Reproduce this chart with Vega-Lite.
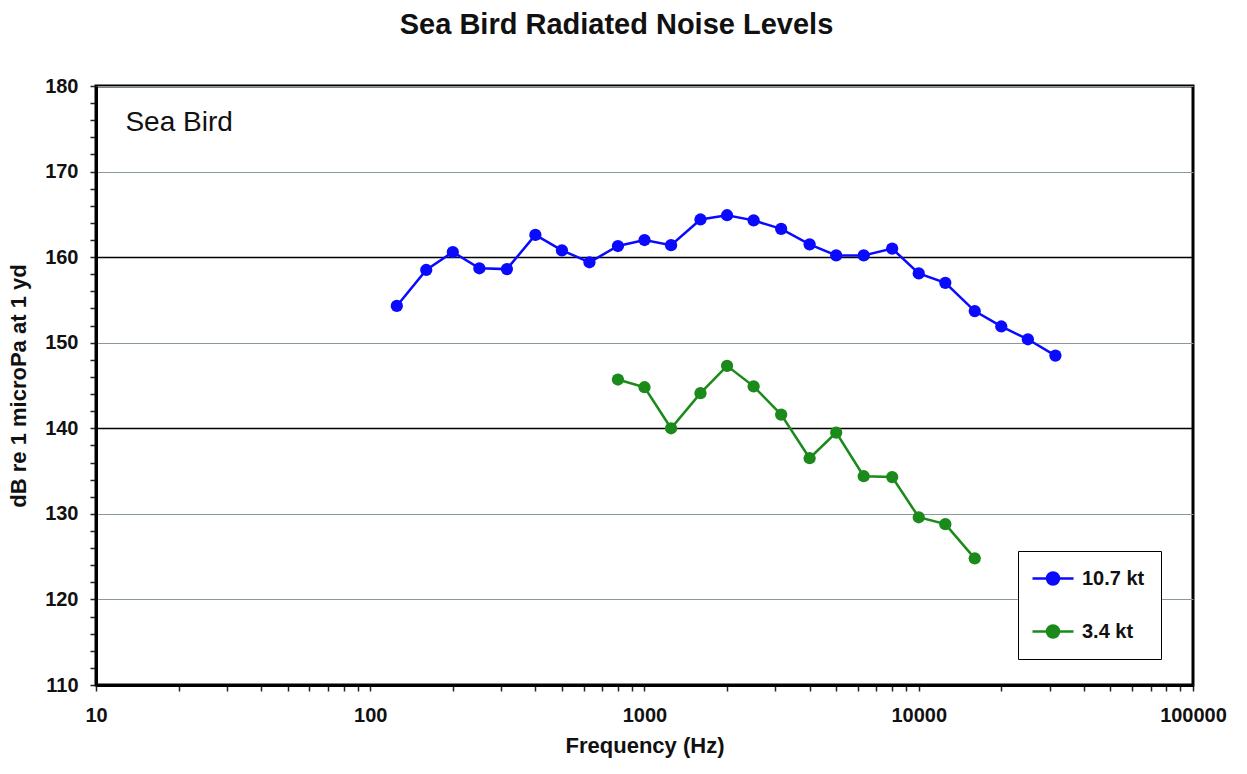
{
  "$schema": "https://vega.github.io/schema/vega-lite/v6.json",
  "width": 1097,
  "height": 599,
  "autosize": "none",
  "padding": {"left": 96, "top": 86, "right": 54, "bottom": 89},
  "background": "white",
  "title": {
    "text": "Sea Bird Radiated Noise Levels",
    "font": "Liberation Sans",
    "fontSize": 29,
    "fontWeight": "bold",
    "color": "#111",
    "anchor": "middle",
    "dx": -28,
    "offset": 36
  },
  "config": {
    "view": {"stroke": "black", "strokeWidth": 3},
    "font": "Liberation Sans",
    "axis": {
      "labelFont": "Liberation Sans",
      "labelFontSize": 20,
      "labelFontWeight": "bold",
      "labelColor": "#111",
      "titleFont": "Liberation Sans",
      "titleFontSize": 22,
      "titleFontWeight": "bold",
      "titleColor": "#111",
      "domainColor": "black",
      "domainWidth": 3,
      "tickColor": "#222",
      "tickWidth": 1.5,
      "tickSize": 6,
      "tickCount": 100
    }
  },
  "data": {
    "values": [
      {"f": 125, "dB": 154.3, "s": "10.7 kt"},
      {"f": 160, "dB": 158.5, "s": "10.7 kt"},
      {"f": 200, "dB": 160.6, "s": "10.7 kt"},
      {"f": 250, "dB": 158.7, "s": "10.7 kt"},
      {"f": 315, "dB": 158.6, "s": "10.7 kt"},
      {"f": 400, "dB": 162.6, "s": "10.7 kt"},
      {"f": 500, "dB": 160.8, "s": "10.7 kt"},
      {"f": 630, "dB": 159.4, "s": "10.7 kt"},
      {"f": 800, "dB": 161.3, "s": "10.7 kt"},
      {"f": 1000, "dB": 162.0, "s": "10.7 kt"},
      {"f": 1250, "dB": 161.4, "s": "10.7 kt"},
      {"f": 1600, "dB": 164.4, "s": "10.7 kt"},
      {"f": 2000, "dB": 164.9, "s": "10.7 kt"},
      {"f": 2500, "dB": 164.3, "s": "10.7 kt"},
      {"f": 3150, "dB": 163.3, "s": "10.7 kt"},
      {"f": 4000, "dB": 161.5, "s": "10.7 kt"},
      {"f": 5000, "dB": 160.2, "s": "10.7 kt"},
      {"f": 6300, "dB": 160.2, "s": "10.7 kt"},
      {"f": 8000, "dB": 161.0, "s": "10.7 kt"},
      {"f": 10000, "dB": 158.1, "s": "10.7 kt"},
      {"f": 12500, "dB": 157.0, "s": "10.7 kt"},
      {"f": 16000, "dB": 153.7, "s": "10.7 kt"},
      {"f": 20000, "dB": 151.9, "s": "10.7 kt"},
      {"f": 25000, "dB": 150.4, "s": "10.7 kt"},
      {"f": 31500, "dB": 148.5, "s": "10.7 kt"},
      {"f": 800, "dB": 145.7, "s": "3.4 kt"},
      {"f": 1000, "dB": 144.8, "s": "3.4 kt"},
      {"f": 1250, "dB": 140.0, "s": "3.4 kt"},
      {"f": 1600, "dB": 144.1, "s": "3.4 kt"},
      {"f": 2000, "dB": 147.3, "s": "3.4 kt"},
      {"f": 2500, "dB": 144.9, "s": "3.4 kt"},
      {"f": 3150, "dB": 141.6, "s": "3.4 kt"},
      {"f": 4000, "dB": 136.5, "s": "3.4 kt"},
      {"f": 5000, "dB": 139.5, "s": "3.4 kt"},
      {"f": 6300, "dB": 134.4, "s": "3.4 kt"},
      {"f": 8000, "dB": 134.3, "s": "3.4 kt"},
      {"f": 10000, "dB": 129.6, "s": "3.4 kt"},
      {"f": 12500, "dB": 128.8, "s": "3.4 kt"},
      {"f": 16000, "dB": 124.8, "s": "3.4 kt"}
    ]
  },
  "layer": [
    {
      "mark": {"type": "line", "strokeWidth": 2.5, "point": {"filled": true, "size": 150, "opacity": 1}},
      "encoding": {
        "x": {
          "field": "f",
          "type": "quantitative",
          "scale": {"type": "log", "domain": [10, 100000]},
          "axis": {
            "title": "Frequency (Hz)",
            "titlePadding": 10,
            "values": [10,20,30,40,50,60,70,80,90,100,200,300,400,500,600,700,800,900,1000,2000,3000,4000,5000,6000,7000,8000,9000,10000,20000,30000,40000,50000,60000,70000,80000,90000,100000],
            "format": "d",
            "labelExpr": "indexof(['10','100','1000','10000','100000'], datum.label) >= 0 ? datum.label : ''",
            "labelPadding": 14,
            "labelFlush": false,
            "labelOverlap": false,
            "grid": false
          }
        },
        "y": {
          "field": "dB",
          "type": "quantitative",
          "scale": {"domain": [110, 180]},
          "axis": {
            "title": "dB re 1 microPa at 1 yd",
            "titlePadding": 14,
            "values": [110,112,114,116,118,120,122,124,126,128,130,132,134,136,138,140,142,144,146,148,150,152,154,156,158,160,162,164,166,168,170,172,174,176,178,180],
            "format": "d",
            "labelExpr": "datum.value % 10 === 0 ? datum.label : ''",
            "labelPadding": 12,
            "labelOverlap": false,
            "labelFlush": false,
            "grid": true,
            "gridColor": {"condition": {"test": "datum.value === 140 || datum.value === 160", "value": "black"}, "value": "#8a9a9a"},
            "gridWidth": {"condition": {"test": "datum.value === 140 || datum.value === 160", "value": 1.6}, "value": 1},
            "gridOpacity": {"condition": {"test": "datum.value % 10 === 0", "value": 1}, "value": 0}
          }
        },
        "color": {
          "field": "s",
          "type": "nominal",
          "scale": {"domain": ["10.7 kt", "3.4 kt"], "range": ["#0a0aff", "#1a8a1a"]},
          "legend": {
            "title": null,
            "orient": "none",
            "legendX": 922,
            "legendY": 465,
            "fillColor": "white",
            "strokeColor": "black",
            "padding": 16,
            "rowPadding": 30,
            "symbolType": "M-1.3,0H2.8M0.75,-0.6A0.6,0.6 0 1 1 0.75,0.6A0.6,0.6 0 1 1 0.75,-0.6Z",
            "symbolSize": 400,
            "symbolStrokeWidth": 2.5,
            "labelFont": "Liberation Sans",
            "labelFontSize": 20,
            "labelFontWeight": "bold",
            "labelColor": "#111",
            "labelOffset": 25,
            "labelLimit": 200,
            "offset": 0
          }
        }
      }
    },
    {
      "data": {"values": [{"f": 12.8, "dB": 175.7, "t": "Sea Bird"}]},
      "mark": {"type": "text", "align": "left", "baseline": "middle", "fontSize": 28, "font": "Liberation Sans", "color": "#111"},
      "encoding": {
        "x": {"field": "f", "type": "quantitative"},
        "y": {"field": "dB", "type": "quantitative"},
        "text": {"field": "t"}
      }
    }
  ]
}
